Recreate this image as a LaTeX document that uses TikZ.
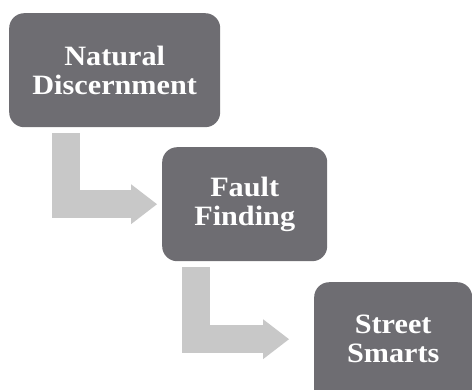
\documentclass[tikz,border=0pt]{standalone}
\usepackage{fontspec}
\setmainfont{Liberation Serif}[FakeStretch=1.08]
\usetikzlibrary{arrows.meta}
\definecolor{boxgray}{HTML}{6E6D72}
\definecolor{arrowgray}{HTML}{C8C8C8}

\begin{document}
\begin{tikzpicture}[x=1pt,y=-1pt,
	box/.style={fill=boxgray,rounded corners=15pt,minimum height=114pt,text=white,align=center,anchor=north west,inner sep=0pt,font=\fontsize{28}{29}\selectfont\bfseries},
	flow/.style={draw=arrowgray,line width=28pt,line join=miter,-{Triangle[width=40pt,length=26pt,line width=0pt,fill=arrowgray]}}]
		\useasboundingbox (0,0) rectangle (472,389);
		\node[box,minimum width=211pt](disc) at (9,13) {Natural\\Discernment};
		\node[box,minimum width=165pt](fault) at (162,147) {Fault\\Finding};
		\node[box,minimum width=158pt](street) at (314,282) {Street\\Smarts};
		% the last box runs off the page at the bottom
		\fill[boxgray] ([yshift=16pt]street.south west) rectangle ([yshift=-10pt]street.south east);
		\coordinate (s1) at (66,133);
		\coordinate (s2) at (196,267);
		\draw[flow,shorten >=5pt] (s1) |- (fault.west);
		\draw[flow,shorten >=25pt] (s2) |- (street.west);
\end{tikzpicture}
\end{document}
